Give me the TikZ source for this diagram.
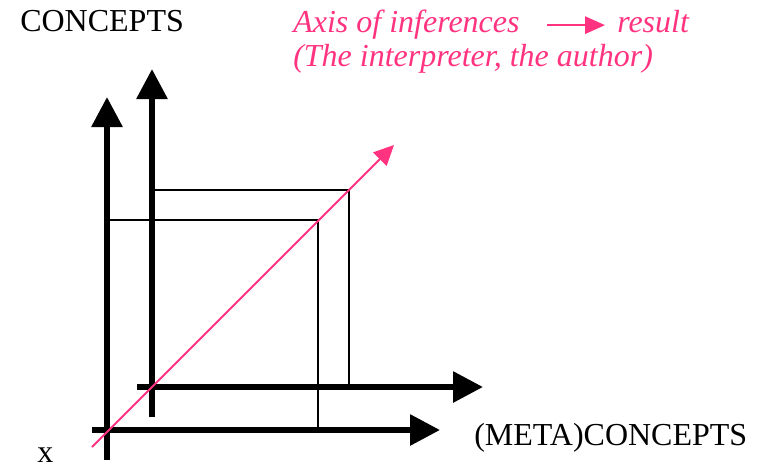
\documentclass[tikz,border=0pt]{standalone}
\usepackage{fontspec}
\setmainfont{Liberation Serif}
\usetikzlibrary{arrows.meta, positioning}
\definecolor{INFpink}{RGB}{255, 51, 128}

\begin{document}
\begin{tikzpicture}[x=0.75pt, y=-0.75pt,
		axis/.style={line width=4.5pt, -{Triangle[length=22.5pt, width=22.5pt]}},
		frame/.style={line width=1.2pt},
		infer/.style={INFpink, line width=1.5pt, -{Triangle[length=15pt, width=14pt]}},
		lbl/.style={font=\fontsize{24}{28}\selectfont, inner sep=0pt},
		note/.style={INFpink, font=\fontsize{24}{28}\selectfont\itshape, inner sep=0pt}]
		\useasboundingbox (0,0) rectangle (763,467);
		
		% Outer axes
		\coordinate (y1b) at (107,460);
		\coordinate (y1) at (107,97);
		\coordinate (x1b) at (92,430);
		\coordinate (x1) at (440,430);
		\draw[axis] (y1b) -- (y1);
		\draw[axis] (x1b) -- (x1);
		
		% Inner axes
		\coordinate (y2b) at (152,417);
		\coordinate (y2) at (152,69);
		\coordinate (x2b) at (137,387);
		\coordinate (x2) at (483,387);
		\draw[axis] (y2b) -- (y2);
		\draw[axis] (x2b) -- (x2);
		
		% Frames
		\coordinate (f1a) at (107,220);
		\coordinate (f1) at (318,220);
		\coordinate (f1b) at (318,430);
		\coordinate (f2a) at (152,190);
		\coordinate (f2) at (349,190);
		\coordinate (f2b) at (349,387);
		\draw[frame] (f1a) -- (f1) -- (f1b);
		\draw[frame] (f2a) -- (f2) -- (f2b);
		
		% Axis of inferences
		\coordinate (i0) at (92,447);
		\coordinate (i1) at (394,145);
		\draw[infer] (i0) -- (i1);
		
		% Labels
		\node[lbl, anchor=base west] (concepts) at (20,32) {CONCEPTS};
		\node[lbl, anchor=base west] (meta) at (474,445) {(META)CONCEPTS};
		\node[lbl, anchor=base west] (x) at (37,462) {x};
		\node[note, anchor=base west] (axisinf) at (293,33) {Axis of inferences};
		\node[note, anchor=base west] (result) at (617,33) {result};
		\node[note, anchor=base west] (who) at (293,67) {(The interpreter, the author)};
		\draw[infer, -{Triangle[length=15pt, width=13pt]}, shorten <=20pt, shorten >=9pt] (axisinf.east) -- (axisinf.east -| result.west);
	\end{tikzpicture}
\end{document}
